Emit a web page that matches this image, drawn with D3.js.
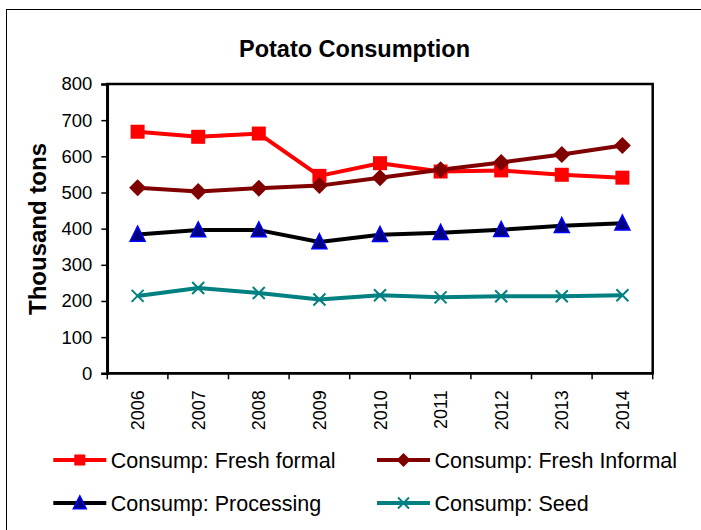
<!DOCTYPE html>
<html><head><meta charset="utf-8">
<script src="https://cdn.jsdelivr.net/npm/d3@7"></script>
<style>body{margin:0;background:#fff}svg{display:block;font-family:"Liberation Sans",Arial,sans-serif}</style>
</head><body><svg id="c" width="701" height="530"></svg>
<script>
const years = ["2006","2007","2008","2009","2010","2011","2012","2013","2014"];
const yTicks = [0,100,200,300,400,500,600,700,800];
const freshFormal = [668,654,663,546,581,558,561,549,541];
const freshInformal = [513,503,512,519,541,563,583,605,630];
const processing = [384,396,396,363,383,389,397,408,415];
const seed = [214,236,222,204,216,210,213,213,216];
const seriesNames = ["Consump: Fresh formal","Consump: Fresh Informal","Consump: Processing","Consump: Seed"];

const series = [
  {name:seriesNames[0], values:freshFormal, color:"#FF0000", marker:"square"},
  {name:seriesNames[1], values:freshInformal, color:"#800000", marker:"diamond"},
  {name:seriesNames[2], values:processing, color:"#000000", marker:"triangle"},
  {name:seriesNames[3], values:seed, color:"#008080", marker:"x"}
];

const svg = d3.select("#c");
const L=107.3, R=652.7, T=84, B=373.3;
const x = d3.scaleBand().domain(years).range([L,R]).padding(0);
const y = d3.scaleLinear().domain([0,800]).range([B,T]);

// outer border
svg.append("rect").attr("x",6.5).attr("y",9.5).attr("width",720).attr("height",540)
  .attr("fill","none").attr("stroke","#000").attr("stroke-width",1);

// title
svg.append("text").attr("x",354.5).attr("y",57).attr("text-anchor","middle")
  .attr("font-weight","bold").attr("font-size",23.5).text("Potato Consumption");

// y label
svg.append("text").attr("transform","translate(45.5,229) rotate(-90)").attr("text-anchor","middle")
  .attr("font-weight","bold").attr("font-size",24).text("Thousand tons");

// plot border
svg.append("rect").attr("x",L).attr("y",T).attr("width",R-L).attr("height",B-T)
  .attr("fill","none").attr("stroke","#000").attr("stroke-width",2.5);

// y axis
const ya = svg.append("g").attr("transform",`translate(${L},0)`)
  .call(d3.axisLeft(y).tickValues(yTicks).tickSize(6).tickPadding(9));
ya.select(".domain").attr("stroke-width",2.5);
ya.selectAll(".tick line").attr("stroke-width",1.5);
ya.selectAll("text").attr("font-size",18.5).attr("font-family","Liberation Sans, Arial, sans-serif").attr("fill","#000");

// x axis: ticks at band boundaries
const xa = svg.append("g").attr("transform",`translate(0,${B})`);
xa.append("line").attr("x1",L).attr("x2",R).attr("stroke","#000").attr("stroke-width",2.5);
const bounds = years.map(d=>x(d)).concat([x(years[years.length-1])+x.bandwidth()]);
xa.selectAll("line.tk").data(bounds).join("line").attr("class","tk")
  .attr("x1",d=>d).attr("x2",d=>d).attr("y1",0).attr("y2",6).attr("stroke","#000").attr("stroke-width",1.5);
xa.selectAll("text").data(years).join("text")
  .attr("transform",d=>`translate(${x(d)+x.bandwidth()/2+6.5},${17}) rotate(-90)`)
  .attr("text-anchor","end").attr("font-size",18).text(d=>d);

function drawMarker(g, type, color, s){
  if(type==="square"){
    g.append("rect").attr("x",-s/2).attr("y",-s/2).attr("width",s).attr("height",s).attr("fill",color);
  } else if(type==="diamond"){
    g.append("path").attr("d",`M0,${-s/2}L${s/2},0L0,${s/2}L${-s/2},0Z`).attr("fill",color);
  } else if(type==="triangle"){
    g.append("path").attr("d",`M0,${-s*0.55}L${s/2},${s*0.45}L${-s/2},${s*0.45}Z`)
      .attr("fill","#000080").attr("stroke","#0000FF").attr("stroke-width",1.5);
  } else {
    const h=s/2;
    g.append("path").attr("d",`M${-h},${-h}L${h},${h}M${-h},${h}L${h},${-h}`)
      .attr("stroke",color).attr("stroke-width",2).attr("fill","none");
  }
}
const msize = {square:14, diamond:17, triangle:15, x:12};

const line = d3.line().x((d,i)=>x(years[i])+x.bandwidth()/2).y(d=>y(d));
series.forEach(s=>{
  svg.append("path").attr("d",line(s.values)).attr("fill","none")
    .attr("stroke",s.color).attr("stroke-width",4).attr("stroke-linejoin","round");
});
series.forEach(s=>{
  s.values.forEach((v,i)=>{
    const g = svg.append("g").attr("transform",`translate(${x(years[i])+x.bandwidth()/2},${y(v)})`);
    drawMarker(g, s.marker, s.color, msize[s.marker]);
  });
});

// legend
const legPos = [[53.3,460],[377,460],[53.3,503],[53.3+323.7,503]];
const lmsize = {square:11, diamond:14, triangle:13, x:11};
series.forEach((s,i)=>{
  const [lx,ly] = legPos[i];
  const g = svg.append("g").attr("transform",`translate(${lx},${ly})`);
  g.append("line").attr("x1",0).attr("x2",53).attr("y1",0).attr("y2",0).attr("stroke",s.color).attr("stroke-width",4);
  const mg = g.append("g").attr("transform","translate(26.5,0)");
  drawMarker(mg, s.marker, s.color, lmsize[s.marker]);
  g.append("text").attr("x",57.5).attr("y",0).attr("dy","0.36em").attr("font-size",21.5).text(s.name);
});
</script></body></html>
